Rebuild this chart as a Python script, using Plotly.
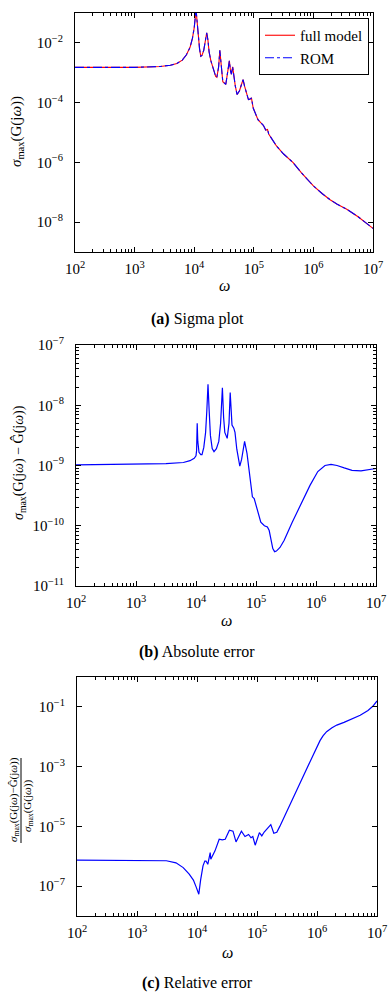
import plotly.graph_objects as go
import numpy as np

W, H = 392, 996

# ---------------- data (log10 values) ----------------
# (a) sigma plot: log10(omega), log10(sigma_max)
sigma_logw = [2.0, 3.0, 3.43, 3.6, 3.71, 3.8, 3.87, 3.93, 3.97, 4.0, 4.02, 4.03, 4.045, 4.07, 4.09,
              4.11, 4.13, 4.16, 4.19, 4.21, 4.23, 4.25, 4.28, 4.32, 4.36, 4.38, 4.41, 4.43, 4.455,
              4.48, 4.53, 4.56, 4.59, 4.61, 4.625, 4.645, 4.67, 4.69, 4.72, 4.76, 4.8, 4.82, 4.845,
              4.87, 4.91, 4.94, 4.96, 4.99, 5.03, 5.07, 5.12, 5.16, 5.2, 5.23, 5.25, 5.3, 5.38, 5.5,
              5.66, 5.8, 6.0, 6.15, 6.28, 6.4, 6.56, 6.75, 6.9, 7.0]
full_model_log = [-2.82, -2.82, -2.79, -2.75, -2.69, -2.58, -2.4, -2.15, -1.85, -1.5, -1.1, -0.85,
                  -1.2, -1.8, -2.2, -2.45, -2.42, -2.25, -1.95, -1.66, -1.9, -2.3, -2.6, -2.9, -3.12,
                  -3.15, -2.8, -2.25, -2.8, -3.3, -3.39, -3.05, -2.6, -2.95, -3.05, -2.8, -3.2, -3.45,
                  -3.73, -3.6, -3.35, -3.23, -3.45, -3.65, -3.9, -3.88, -3.84, -4.18, -4.4, -4.57,
                  -4.68, -4.76, -4.92, -4.9, -5.05, -5.2, -5.45, -5.72, -6.01, -6.35, -6.79, -7.05,
                  -7.25, -7.4, -7.57, -7.82, -8.05, -8.21]
rom_log = list(full_model_log)  # visually identical to the full model

# (b) absolute error
abs_logw = [2.0, 3.0, 3.5, 3.79, 3.9, 3.97, 4.0, 4.01, 4.02, 4.03, 4.05, 4.08, 4.1, 4.13, 4.16, 4.18,
            4.2, 4.22, 4.24, 4.27, 4.3, 4.34, 4.38, 4.41, 4.44, 4.46, 4.48, 4.52, 4.55, 4.57, 4.59,
            4.6, 4.63, 4.65, 4.68, 4.71, 4.73, 4.76, 4.79, 4.81, 4.85, 4.9, 4.94, 4.97, 5.0, 5.04,
            5.08, 5.14, 5.19, 5.22, 5.25, 5.28, 5.31, 5.34, 5.4, 5.47, 5.6, 5.75, 5.9, 6.03, 6.15,
            6.25, 6.35, 6.47, 6.6, 6.75, 6.9, 7.0]
abs_err_log = [-8.99, -8.98, -8.97, -8.95, -8.92, -8.88, -8.84, -8.75, -8.3, -8.6, -8.78, -8.82,
               -8.82, -8.7, -8.45, -8.1, -7.65, -8.1, -8.5, -8.72, -8.77, -8.72, -8.6, -8.3, -7.71,
               -8.2, -8.45, -8.55, -8.3, -7.79, -8.2, -8.33, -8.38, -8.45, -8.73, -8.95, -9.01,
               -8.9, -8.7, -8.6, -8.8, -9.19, -9.52, -9.55, -9.65, -9.82, -9.94, -10.0, -10.02,
               -10.08, -10.25, -10.38, -10.43, -10.42, -10.36, -10.24, -9.95, -9.63, -9.33, -9.1,
               -9.0, -8.98, -9.0, -9.04, -9.08, -9.09, -9.07, -9.05]

# (c) relative error
rel_logw = [2.0, 3.0, 3.49, 3.65, 3.77, 3.87, 3.94, 3.99, 4.03, 4.06, 4.1, 4.13, 4.15, 4.18, 4.22,
            4.23, 4.3, 4.37, 4.42, 4.47, 4.54, 4.6, 4.65, 4.74, 4.8, 4.86, 4.9, 4.93, 4.97, 5.04,
            5.08, 5.12, 5.16, 5.23, 5.28, 5.33, 5.38, 5.44, 5.58, 5.72, 5.88, 6.0, 6.05, 6.1, 6.16,
            6.25, 6.33, 6.45, 6.55, 6.72, 6.85, 6.93, 7.0]
rel_err_log = [-6.13, -6.13, -6.15, -6.22, -6.38, -6.6, -6.8, -7.05, -7.27, -6.8, -6.32, -6.16,
               -6.16, -6.27, -5.88, -6.1, -5.82, -5.43, -5.45, -5.43, -5.13, -5.16, -5.52, -5.16,
               -5.34, -5.27, -5.38, -5.34, -5.63, -5.21, -5.32, -5.19, -5.1, -4.94, -5.23, -5.2,
               -5.0, -4.75, -4.14, -3.54, -2.85, -2.33, -2.13, -1.97, -1.83, -1.7, -1.61, -1.52,
               -1.44, -1.28, -1.12, -0.98, -0.8]

x_tick_exps = [2, 3, 4, 5, 6, 7]
y1_tick_exps = [-2, -4, -6, -8]
y2_tick_exps = [-7, -8, -9, -10, -11]
y3_tick_exps = [-1, -3, -5, -7]

# ---------------- helpers ----------------
FONT = "Liberation Serif, Times New Roman, serif"


def px_x(x):
    return x / W


def px_y(y):
    return 1 - y / H


def pow_label(e):
    return "10<sup>" + ("\u2212" + str(-e) if e < 0 else str(e)) + "</sup>"


def minor_vals(lo, hi):
    v = []
    for k in range(lo, hi):
        for m in range(2, 10):
            v.append(m * 10.0 ** k)
    return v


fig = go.Figure()

fig.add_trace(go.Scatter(x=10 ** np.array(sigma_logw), y=10 ** np.array(full_model_log),
                         mode="lines", name="full model", line=dict(color="#ff0000", width=1.1),
                         xaxis="x", yaxis="y"))
fig.add_trace(go.Scatter(x=10 ** np.array(sigma_logw), y=10 ** np.array(rom_log),
                         mode="lines", name="ROM", line=dict(color="#0000ff", width=1.1, dash="dashdot"),
                         xaxis="x", yaxis="y"))
fig.add_trace(go.Scatter(x=10 ** np.array(abs_logw), y=10 ** np.array(abs_err_log),
                         mode="lines", showlegend=False, line=dict(color="#0000ff", width=1.2),
                         xaxis="x2", yaxis="y2"))
fig.add_trace(go.Scatter(x=10 ** np.array(rel_logw), y=10 ** np.array(rel_err_log),
                         mode="lines", showlegend=False, line=dict(color="#0000ff", width=1.2),
                         xaxis="x3", yaxis="y3"))

panels = [
    # (x0, x1, ytop, ybottom, yrange, yticks, yminor)
    (75, 373, 13, 252, [-9, -1], y1_tick_exps, False),
    (76, 376, 345, 586, [-11, -7], y2_tick_exps, True),
    (77, 377, 677, 916, [-8, 0], y3_tick_exps, False),
]

common = dict(showline=True, linecolor="black", linewidth=1, mirror="ticks", ticks="inside",
              ticklen=5, tickcolor="black", showgrid=False, zeroline=False,
              tickfont=dict(family=FONT, size=15, color="black"))

layout = dict(width=W, height=H, margin=dict(l=0, r=0, t=0, b=0, autoexpand=False),
              plot_bgcolor="white", paper_bgcolor="white", font=dict(family=FONT, color="black"))

for i, (x0, x1, yt, yb, yr, yt_exps, yminor) in enumerate(panels):
    sx = "" if i == 0 else str(i + 1)
    xa = dict(common, type="log", range=[2, 7], domain=[px_x(x0), px_x(x1)],
              anchor="y" + sx, tickmode="array",
              tickvals=[10.0 ** e for e in x_tick_exps], ticktext=[pow_label(e) for e in x_tick_exps],
              minor=dict(tickmode="array", tickvals=minor_vals(2, 7), ticks="inside", ticklen=3,
                         tickcolor="black", showgrid=False),
              ticklabelstandoff=3)
    ya = dict(common, type="log", range=yr, domain=[px_y(yb), px_y(yt)],
              anchor="x" + sx, tickmode="array",
              tickvals=[10.0 ** e for e in yt_exps], ticktext=[pow_label(e) for e in yt_exps],
              ticklabelstandoff=8)
    if yminor:
        ya["minor"] = dict(tickmode="array", tickvals=minor_vals(yr[0], yr[1]), ticks="inside",
                           ticklen=3, tickcolor="black", showgrid=False)
    layout["xaxis" + sx] = xa
    layout["yaxis" + sx] = ya

fig.update_layout(**layout)

fig.update_layout(legend=dict(x=px_x(369), y=px_y(18), xanchor="right", yanchor="top",
                              bgcolor="white", bordercolor="black", borderwidth=1,
                              font=dict(family=FONT, size=15, color="black"),
                              tracegroupgap=0, itemwidth=30))

ann = []
# x axis titles
for xc, yc in [(224, 285), (226, 620), (227, 952)]:
    ann.append(dict(text="<i>ω</i>", x=px_x(xc), y=px_y(yc), xref="paper", yref="paper",
                    showarrow=False, font=dict(family=FONT, size=16), xanchor="center", yanchor="middle"))
# captions
for txt, yc in [("<b>(a)</b> Sigma plot", 319), ("<b>(b)</b> Absolute error", 652),
                ("<b>(c)</b> Relative error", 983)]:
    ann.append(dict(text=txt, x=px_x(197), y=px_y(yc), xref="paper", yref="paper",
                    showarrow=False, font=dict(family=FONT, size=16), xanchor="center", yanchor="middle"))
# y titles
ann.append(dict(text="<i>σ</i><sub>max</sub>(G(j<i>ω</i>))", x=px_x(17), y=px_y(132),
                xref="paper", yref="paper", showarrow=False, textangle=-90,
                font=dict(family=FONT, size=15), xanchor="center", yanchor="middle"))
ann.append(dict(text="<i>σ</i><sub>max</sub>(G(j<i>ω</i>) − Ĝ(j<i>ω</i>))", x=px_x(19), y=px_y(463),
                xref="paper", yref="paper", showarrow=False, textangle=-90,
                font=dict(family=FONT, size=14), xanchor="center", yanchor="middle"))
ann.append(dict(text="<i>σ</i><sub>max</sub>(G(j<i>ω</i>)−Ĝ(j<i>ω</i>))", x=px_x(14), y=px_y(800),
                xref="paper", yref="paper", showarrow=False, textangle=-90,
                font=dict(family=FONT, size=11), xanchor="center", yanchor="middle"))
ann.append(dict(text="<i>σ</i><sub>max</sub>(G(j<i>ω</i>))", x=px_x(28), y=px_y(806),
                xref="paper", yref="paper", showarrow=False, textangle=-90,
                font=dict(family=FONT, size=11), xanchor="center", yanchor="middle"))
fig.update_layout(annotations=ann)

fig.add_shape(type="line", xref="paper", yref="paper", x0=px_x(21), x1=px_x(21),
              y0=px_y(758), y1=px_y(843), line=dict(color="black", width=1))

fig.write_html("out.html", config={"displayModeBar": False},
               post_script="document.body.style.margin='0px';document.body.style.overflow='hidden';")
